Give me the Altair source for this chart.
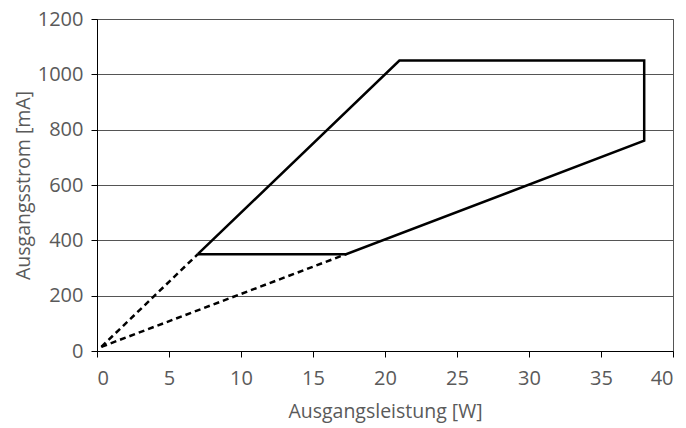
import altair as alt
import pandas as pd

# Solid operating window (Ausgangsleistung [W], Ausgangsstrom [mA])
solid_x = [7, 21, 38, 38, 17.3, 7]
solid_y = [350, 1050, 1050, 760, 350, 350]

# Dashed extension lines towards the origin
dash_a_x = [0.3, 7]
dash_a_y = [15, 350]
dash_b_x = [0.3, 17.3]
dash_b_y = [15, 350]

x_ticks = [0, 5, 10, 15, 20, 25, 30, 35, 40]
y_ticks = [0, 200, 400, 600, 800, 1000, 1200]

solid_df = pd.DataFrame({"x": solid_x, "y": solid_y, "o": list(range(len(solid_x)))})
dash_df = pd.DataFrame({
    "x": dash_a_x + dash_b_x,
    "y": dash_a_y + dash_b_y,
    "g": ["a"] * len(dash_a_x) + ["b"] * len(dash_b_x),
})

FONT = "Open Sans"
TXT = "#5a5a5a"

x_enc = alt.X("x:Q", scale=alt.Scale(domain=[0, 40], nice=False),
              axis=alt.Axis(values=x_ticks, grid=False, title="Ausgangsleistung [W]",
                            domainColor="#000", tickColor="#000", tickSize=6,
                            labelPadding=11, titlePadding=14, format="d"))
y_enc = alt.Y("y:Q", scale=alt.Scale(domain=[0, 1200], nice=False),
              axis=alt.Axis(values=y_ticks, grid=True, gridColor="#555555", gridWidth=1,
                            title="Ausgangsstrom [mA]",
                            domainColor="#000", tickColor="#000", tickSize=6,
                            labelPadding=8, titlePadding=4, format="d"))

solid = alt.Chart(solid_df).mark_line(color="black", strokeWidth=2.5).encode(
    x=x_enc, y=y_enc, order="o:Q"
)
dashed = alt.Chart(dash_df).mark_line(color="black", strokeWidth=2.5, strokeDash=[6, 4]).encode(
    x="x:Q", y="y:Q", detail="g:N"
)

chart = alt.layer(solid, dashed).properties(
    width=576, height=332,
    autosize=alt.AutoSizeParams(type="none"),
    padding={"left": 89, "top": 11, "right": 2, "bottom": 76},
).configure_view(
    stroke="#555555", strokeWidth=1
).configure_axis(
    labelFont=FONT, titleFont=FONT, labelColor=TXT, titleColor=TXT,
    labelFontSize=20, titleFontSize=19.5, titleFontWeight="normal",
)

chart.save("out.html", embed_options={"renderer": "svg", "actions": False})
